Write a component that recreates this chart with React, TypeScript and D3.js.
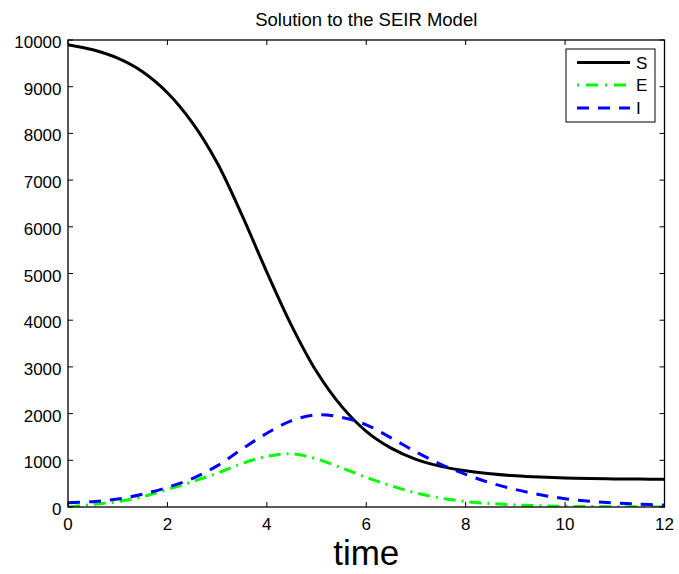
import React from "react";
import * as d3 from "d3";

const times = [0, 0.5, 1, 1.5, 2, 2.5, 3, 3.5, 4, 4.5, 5, 5.5, 6, 6.5, 7, 7.5, 8, 8.5, 9, 9.5, 10, 10.5, 11, 11.5, 12];
const sValues = [9900, 9790, 9610, 9320, 8870, 8230, 7370, 6250, 5030, 3880, 2900, 2160, 1620, 1260, 1020, 870, 775, 712, 668, 640, 622, 610, 602, 597, 593];
const eValues = [0, 55, 115, 220, 375, 540, 725, 930, 1085, 1140, 1030, 840, 635, 455, 300, 190, 118, 74, 45, 26, 15, 9, 5, 3, 2];
const iValues = [90, 115, 170, 275, 420, 610, 880, 1240, 1580, 1850, 1975, 1920, 1760, 1480, 1180, 915, 700, 515, 375, 262, 178, 122, 86, 60, 40];
const xTicks = [0, 2, 4, 6, 8, 10, 12];
const yTicks = [0, 1000, 2000, 3000, 4000, 5000, 6000, 7000, 8000, 9000, 10000];
const seriesNames = ["S", "E", "I"];
const title = "Solution to the SEIR Model";
const xLabel = "time";

const W = 679;
const H = 574;
const L = 68, R = 664.5, T = 40, B = 507;
const FONT = "'Liberation Sans', Arial, Helvetica, sans-serif";

export default function App() {
  const x = d3.scaleLinear().domain([0, 12]).range([L, R]);
  const y = d3.scaleLinear().domain([0, 10000]).range([B, T]);
  const line = (vals: number[]) =>
    d3
      .line<number>()
      .x((_, i) => x(times[i]))
      .y((v) => y(v))
      .curve(d3.curveCatmullRom.alpha(0.5))(vals) || "";

  const styles = [
    { color: "#000000", dash: "none", vals: sValues },
    { color: "#00ff00", dash: "12,6,2,6", vals: eValues },
    { color: "#0000ff", dash: "12,9", vals: iValues },
  ];
  const legendRows = [62.5, 85, 108];
  const tickLen = 5;

  return (
    <svg
      width={W}
      height={H}
      style={{ position: "absolute", left: 0, top: 0, background: "#fff" }}
      fontFamily={FONT}
    >
      <rect x={0} y={0} width={W} height={H} fill="#fff" />
      <defs>
        <clipPath id="plotclip">
          <rect x={L} y={T} width={R - L} height={B - T} />
        </clipPath>
      </defs>
      <text x={(L + R) / 2} y={26} textAnchor="middle" fontSize={18.5} fill="#000">
        {title}
      </text>
      <g clipPath="url(#plotclip)">
        {styles.map((s, i) => (
          <path
            key={i}
            d={line(s.vals)}
            fill="none"
            stroke={s.color}
            strokeWidth={3}
            strokeDasharray={s.dash}
          />
        ))}
      </g>
      <rect x={L} y={T} width={R - L} height={B - T} fill="none" stroke="#000" strokeWidth={1.3} />
      {xTicks.map((t) => (
        <g key={"x" + t}>
          <line x1={x(t)} x2={x(t)} y1={B} y2={B - tickLen} stroke="#000" strokeWidth={1} />
          <line x1={x(t)} x2={x(t)} y1={T} y2={T + tickLen} stroke="#000" strokeWidth={1} />
          <text x={x(t)} y={530} textAnchor="middle" fontSize={17} fill="#000">
            {t}
          </text>
        </g>
      ))}
      {yTicks.map((t) => (
        <g key={"y" + t}>
          <line x1={L} x2={L + tickLen} y1={y(t)} y2={y(t)} stroke="#000" strokeWidth={1} />
          <line x1={R} x2={R - tickLen} y1={y(t)} y2={y(t)} stroke="#000" strokeWidth={1} />
          <text x={61.5} y={y(t) + 8} textAnchor="end" fontSize={17} fill="#000">
            {t}
          </text>
        </g>
      ))}
      <text x={(L + R) / 2} y={565} textAnchor="middle" fontSize={35} fill="#000">
        {xLabel}
      </text>
      <rect x={566} y={49} width={89} height={73} fill="#fff" stroke="#000" strokeWidth={1} />
      {styles.map((s, i) => (
        <g key={"lg" + i}>
          <line
            x1={577}
            x2={630}
            y1={legendRows[i]}
            y2={legendRows[i]}
            stroke={s.color}
            strokeWidth={3}
            strokeDasharray={s.dash === "12,6,2,6" ? "2,7,12,7" : s.dash}
          />
          <text x={636} y={legendRows[i] + 6} fontSize={17} fill="#000">
            {seriesNames[i]}
          </text>
        </g>
      ))}
    </svg>
  );
}
